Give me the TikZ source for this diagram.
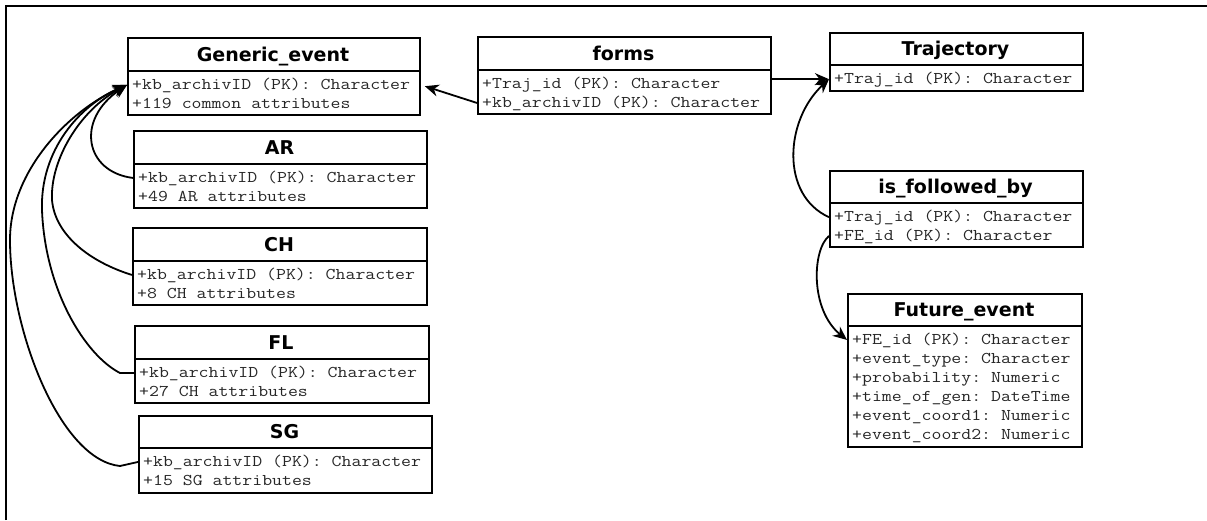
\documentclass[tikz,border=0pt]{standalone}
\usepackage{fontspec}
\setmonofont{Latin Modern Mono}[FakeStretch=1.175]
\newfontfamily\ttlfont{DejaVu Sans}
\usetikzlibrary{arrows.meta,calc}
\tikzset{
 tblbox/.style={draw, line width=2pt, inner sep=0pt, anchor=north west},
 ttl/.style={font=\ttlfont\bfseries\fontsize{19}{22}\selectfont, inner sep=0pt, anchor=base},
 rowtxt/.style={font=\ttfamily\fontsize{16.4}{19}\selectfont, text=black!85, inner xsep=5pt, inner ysep=0pt, anchor=base west},
 divider/.style={line width=1.8pt},
 arr/.style={line width=1.8pt, -{Stealth[length=14pt,width=12pt]}},
 frameline/.style={line width=1.8pt},
}
\newcommand{\mktbl}[7]{%
 \node[tblbox, minimum width={(#4-#2)*1pt}, minimum height={(#5-#3)*1pt}] (#1) at (#2,#3) {};
 \draw[divider] (#2,#6) -- (#4,#6);
 \node[ttl] (#1t) at ({(#2+#4)/2},{#6-10}) {#7};
}
\begin{document}
\begin{tikzpicture}[x=1pt,y=-1pt]
\useasboundingbox (0,0) rectangle (1207,520);
\draw[frameline] (6,520) -- (6,6) -- (1207,6);

% Generic_event
\mktbl{ge}{127}{37}{419}{114}{71}{Generic\_event}
\node[rowtxt] (ge1) at (127,89) {+kb\_archivID (PK): Character};
\node[rowtxt] (ge2) at (127,108) {+119 common attributes};
% AR
\mktbl{ar}{133}{130}{426}{207}{164}{AR}
\node[rowtxt] (ar1) at (133,182) {+kb\_archivID (PK): Character};
\node[rowtxt] (ar2) at (133,201) {+49 AR attributes};
% CH
\mktbl{ch}{132}{227}{426}{304}{261}{CH}
\node[rowtxt] (ch1) at (132,279) {+kb\_archivID (PK): Character};
\node[rowtxt] (ch2) at (132,298) {+8 CH attributes};
% FL
\mktbl{fl}{134}{325}{428}{402}{359}{FL}
\node[rowtxt] (fl1) at (134,377) {+kb\_archivID (PK): Character};
\node[rowtxt] (fl2) at (134,396) {+27 CH attributes};
% SG
\mktbl{sg}{138}{415}{431}{492}{448}{SG}
\node[rowtxt] (sg1) at (138,466) {+kb\_archivID (PK): Character};
\node[rowtxt] (sg2) at (138,485) {+15 SG attributes};
% forms
\mktbl{fm}{477}{36}{770}{113}{70}{forms}
\node[rowtxt] (fm1) at (477,88) {+Traj\_id (PK): Character};
\node[rowtxt] (fm2) at (477,107) {+kb\_archivID (PK): Character};
% Trajectory
\mktbl{tj}{829}{32}{1082}{90}{65}{Trajectory}
\node[rowtxt] (tj1) at (829,83) {+Traj\_id (PK): Character};
% is_followed_by
\mktbl{ifb}{829}{170}{1082}{246}{203}{is\_followed\_by}
\node[rowtxt] (ifb1) at (829,221) {+Traj\_id (PK): Character};
\node[rowtxt] (ifb2) at (829,240) {+FE\_id (PK): Character};
% Future_event
\mktbl{fe}{847}{293}{1081}{446}{326}{Future\_event}
\node[rowtxt] (fe1) at (847,344) {+FE\_id (PK): Character};
\node[rowtxt] (fe2) at (847,363) {+event\_type: Character};
\node[rowtxt] (fe3) at (847,382) {+probability: Numeric};
\node[rowtxt] (fe4) at (847,401) {+time\_of\_gen: DateTime};
\node[rowtxt] (fe5) at (847,420) {+event\_coord1: Numeric};
\node[rowtxt] (fe6) at (847,439) {+event\_coord2: Numeric};

% connectors
\draw[arr, shorten >=4pt] (fm2.west) -- (ge1.west -| ge.east);
\draw[arr] (fm.east |- tj1.west) -- (tj1.west);
\draw[arr] (ifb1.west) .. controls (780,195) and (785,120) .. (tj1.west);
\draw[arr] (ifb2.west) .. controls (812,250) and (810,310) .. (fe1.west);

\draw[arr] (ar1.west) .. controls (85,172) and (75,120) .. (ge1.west);
\draw[arr] (ch1.west) .. controls (90,262) and (55,235) .. (52,200) .. controls (50,160) and (80,110) .. (ge1.west);
\draw[arr] (fl1.west) -- (120,373) .. controls (85,355) and (45,290) .. (42,210) .. controls (40,150) and (80,105) .. (ge1.west);
\draw[arr] (sg1.west) -- (120,466) .. controls (60,460) and (10,330) .. (10,240) .. controls (10,170) and (70,110) .. (ge1.west);
\end{tikzpicture}
\end{document}
